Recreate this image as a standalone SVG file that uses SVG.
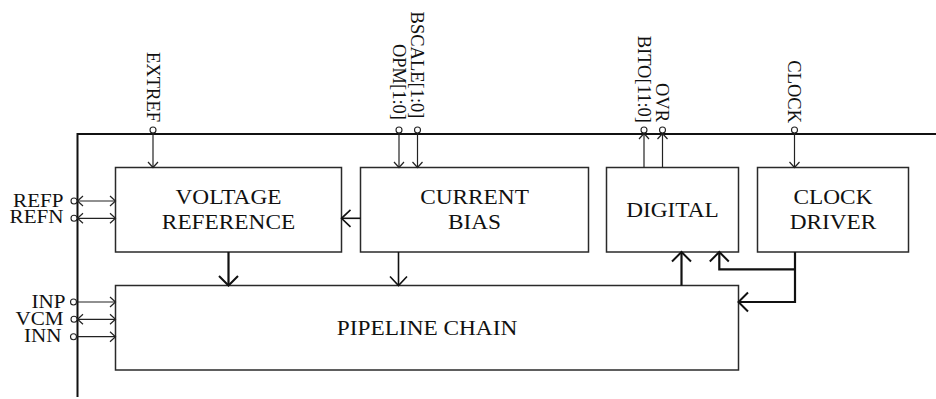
<svg xmlns="http://www.w3.org/2000/svg" width="936" height="399" viewBox="0 0 936 399">
<style>
text{font-family:"Liberation Serif","Times New Roman",serif;fill:#111}
.box{fill:#fff;stroke:#2a2a2a;stroke-width:1.5}
.lbl{font-size:21px}
.pin{font-size:19px}
.vpin{font-size:18.5px}
.frame{fill:none;stroke:#111;stroke-width:2}
.thin{fill:none;stroke:#222;stroke-width:1.2}
.mid{fill:none;stroke:#111;stroke-width:1.6}
.thick{fill:none;stroke:#111;stroke-width:2.2}
.pc{fill:#fff;stroke:#222;stroke-width:1.1}
</style>
<defs>
<marker id="as" markerUnits="userSpaceOnUse" markerWidth="12" markerHeight="12" refX="0" refY="0" orient="auto-start-reverse" overflow="visible">
<path d="M-5.5,-5 L0,0 L-5.5,5" fill="none" stroke="#222" stroke-width="1.2"/>
</marker>
<marker id="al" markerUnits="userSpaceOnUse" markerWidth="20" markerHeight="20" refX="0" refY="0" orient="auto-start-reverse" overflow="visible">
<path d="M-9.5,-9.5 L0,0 L-9.5,9.5" fill="none" stroke="#111" stroke-width="2"/>
</marker>
<marker id="am" markerUnits="userSpaceOnUse" markerWidth="20" markerHeight="20" refX="0" refY="0" orient="auto-start-reverse" overflow="visible">
<path d="M-9,-8.5 L0,0 L-9,8.5" fill="none" stroke="#111" stroke-width="1.6"/>
</marker>
</defs>

<g id="frame">
<path class="frame" d="M77.5,397 V134 H936"/>
</g>

<g id="voltage-reference">
<rect class="box" x="115.5" y="167.5" width="226" height="84.5"/>
<text class="lbl" transform="translate(228.5,204) scale(1.11,1)" text-anchor="middle">VOLTAGE</text>
<text class="lbl" transform="translate(228.5,229) scale(1.11,1)" text-anchor="middle">REFERENCE</text>
</g>

<g id="current-bias">
<rect class="box" x="360.5" y="167.5" width="228" height="84.5"/>
<text class="lbl" transform="translate(474.5,204) scale(1.11,1)" text-anchor="middle">CURRENT</text>
<text class="lbl" transform="translate(474.5,229) scale(1.11,1)" text-anchor="middle">BIAS</text>
</g>

<g id="digital">
<rect class="box" x="606.5" y="167.5" width="132" height="84.5"/>
<text class="lbl" transform="translate(672.5,217) scale(1.11,1)" text-anchor="middle">DIGITAL</text>
</g>

<g id="clock-driver">
<rect class="box" x="757.5" y="167.5" width="151" height="84.5"/>
<text class="lbl" transform="translate(833,204) scale(1.11,1)" text-anchor="middle">CLOCK</text>
<text class="lbl" transform="translate(833,228.5) scale(1.11,1)" text-anchor="middle">DRIVER</text>
</g>

<g id="pipeline-chain">
<rect class="box" x="115.5" y="285.5" width="623" height="84.5"/>
<text class="lbl" transform="translate(427,335) scale(1.11,1)" text-anchor="middle">PIPELINE CHAIN</text>
</g>

<g id="pins">
<text class="pin" transform="translate(63.5,206.7) scale(1.11,1)" text-anchor="end">REFP</text>
<text class="pin" transform="translate(63.5,223.3) scale(1.11,1)" text-anchor="end">REFN</text>
<text class="pin" transform="translate(65.5,307.7) scale(1.11,1)" text-anchor="end">INP</text>
<text class="pin" transform="translate(63.5,325) scale(1.11,1)" text-anchor="end">VCM</text>
<text class="pin" transform="translate(61.5,341.7) scale(1.11,1)" text-anchor="end">INN</text>
<text class="vpin" transform="translate(153,122) rotate(90)" y="6.1" text-anchor="end">EXTREF</text>
<text class="vpin" transform="translate(399,120) rotate(90)" y="6.1" text-anchor="end">OPM[1:0]</text>
<text class="vpin" transform="translate(417.5,118.5) rotate(90)" y="6.1" text-anchor="end">BSCALE[1:0]</text>
<text class="vpin" transform="translate(644,123) rotate(90)" y="6.1" text-anchor="end">BITO[11:0]</text>
<text class="vpin" transform="translate(662.5,122) rotate(90)" y="6.1" text-anchor="end">OVR</text>
<text class="vpin" transform="translate(794.5,123) rotate(90)" y="6.1" text-anchor="end">CLOCK</text>
</g>

<g id="connectors">
<!-- left pins -->
<path class="thin" d="M77.5,201 H115.5" marker-start="url(#as)" marker-end="url(#as)"/>
<path class="thin" d="M77.5,218.3 H115.5" marker-start="url(#as)" marker-end="url(#as)"/>
<path class="thin" d="M77,302 H115.5" marker-end="url(#as)"/>
<path class="thin" d="M77.5,319.3 H115.5" marker-start="url(#as)" marker-end="url(#as)"/>
<path class="thin" d="M77,336.7 H115.5" marker-end="url(#as)"/>
<!-- top pins -->
<path class="thin" d="M153,133 V167.5" marker-end="url(#as)"/>
<path class="thin" d="M399,133 V167.5" marker-end="url(#as)"/>
<path class="thin" d="M417.5,133 V167.5" marker-end="url(#as)"/>
<path class="thin" d="M644,167.5 V133.5" marker-end="url(#as)"/>
<path class="thin" d="M662.5,167.5 V133.5" marker-end="url(#as)"/>
<path class="thin" d="M794.5,133 V167.5" marker-end="url(#as)"/>
<!-- internal -->
<path class="mid" d="M360.5,218.3 H341.5" marker-end="url(#am)"/>
<path class="thick" d="M228.5,252 V285.5" marker-end="url(#al)"/>
<path class="mid" d="M398.5,252 V285.5" marker-end="url(#am)"/>
<path class="thick" d="M681.5,285.5 V252" marker-end="url(#al)"/>
<path class="thick" d="M795,252 V302 H738.5" marker-end="url(#al)"/>
<path class="thick" d="M795,269.3 H719.3 V252" marker-end="url(#al)"/>
<!-- pin circles -->
<circle class="pc" cx="74" cy="201" r="3"/>
<circle class="pc" cx="74" cy="218.3" r="3"/>
<circle class="pc" cx="73.5" cy="302" r="3"/>
<circle class="pc" cx="74" cy="319.3" r="3"/>
<circle class="pc" cx="73.5" cy="336.7" r="3"/>
<circle class="pc" cx="153" cy="130" r="3"/>
<circle class="pc" cx="399" cy="130" r="3"/>
<circle class="pc" cx="417.5" cy="130" r="3"/>
<circle class="pc" cx="644" cy="130" r="3"/>
<circle class="pc" cx="662.5" cy="130" r="3"/>
<circle class="pc" cx="794.5" cy="130" r="3"/>
</g>
</svg>
